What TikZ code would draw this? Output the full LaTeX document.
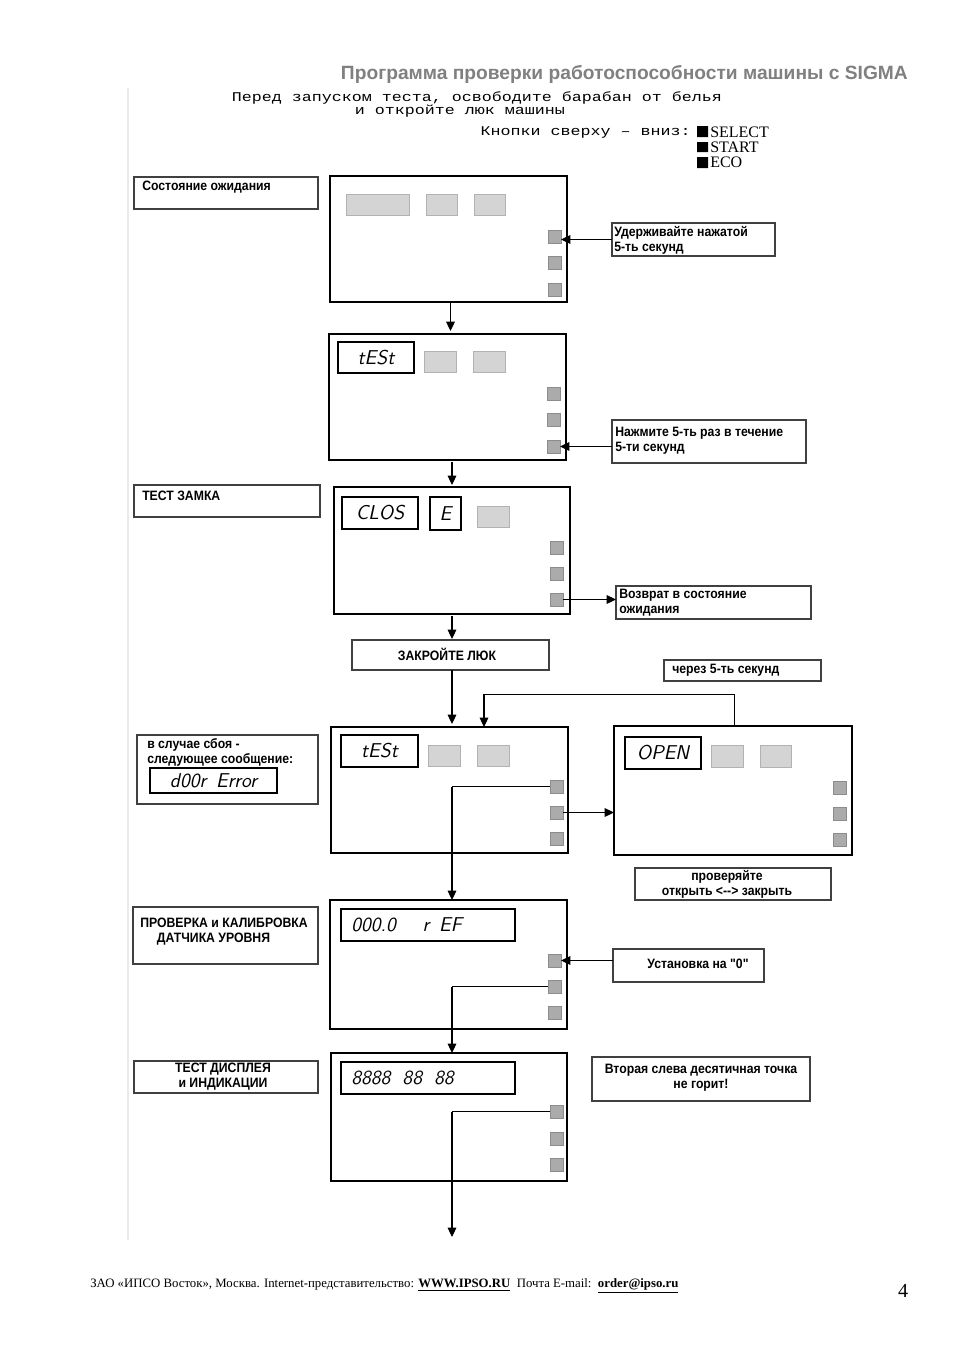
\documentclass[tikz,border=0pt]{standalone}
\usepackage{fontspec}
\setmainfont{Liberation Sans}
\newfontfamily\monof[FakeStretch=1.25]{Liberation Mono}
\newfontfamily\serf{Liberation Serif}
\newfontfamily\lblf[FakeStretch=0.9]{Liberation Sans}
\usetikzlibrary{arrows.meta}
\newcommand\bx[6][]{\node[#1, anchor=north west, inner sep=0pt, outer sep=0pt, minimum width={(#4-#2)*0.75pt}, minimum height={(#5-#3)*0.75pt}] (#6) at (#2,#3) {};}
\newcommand\btns[5]{%
  \bx[btn]{#2}{#3}{#2+13}{#3+13}{#1b1}%
  \bx[btn]{#2}{#4}{#2+13}{#4+13}{#1b2}%
  \bx[btn]{#2}{#5}{#2+13}{#5+13}{#1b3}}
\begin{document}
\begin{tikzpicture}[x=0.75pt,y=-0.75pt,
  panel/.style={draw, line width=2.2pt},
  lbl/.style={draw=black!75, line width=1pt},
  disp/.style={draw, line width=0.8pt},
  blk/.style={draw=black!30, fill=black!17, line width=0.6pt},
  btn/.style={draw=black!45, fill=black!33, line width=0.5pt},
  arr/.style={-{Triangle[length=7pt,width=6.5pt]}, line width=0.8pt},
  ln/.style={line width=0.6pt},
  txt/.style={font=\fontsize{10.2}{11.25}\lblf\bfseries, inner sep=0pt, align=left, anchor=west},
  ctxt/.style={font=\fontsize{10.2}{11.25}\lblf\bfseries, inner sep=0pt, align=center},
  seg/.style={font=\fontsize{15}{15}\sffamily\slshape, inner sep=0pt},
  mono/.style={font=\fontsize{10}{10}\monof, inner sep=0pt},
  ser/.style={font=\fontsize{12}{12}\serf, inner sep=0pt, anchor=west}]
\useasboundingbox (0,0) rectangle (954,1350);
\fill[white] (0,0) rectangle (954,1350);
% faint scan edge
\draw[black!8, line width=1pt] (128,88) -- (128,1240);
% header
\node[font=\fontsize{14.4}{14.4}\bfseries, text=black!50, anchor=east, inner sep=0pt] (title) at (908,74) {Программа проверки работоспособности машины с SIGMA};
\node[mono] (intro1) at (477,98) {Перед запуском теста, освободите барабан от белья};
\node[mono] (intro2) at (460,111) {и откройте люк машины};
\node[mono, anchor=east] (keys) at (691,132) {Кнопки сверху – вниз:};
\fill (697,126) rectangle (708,137) (697,142) rectangle (708,152) (697,157) rectangle (708,168);
\node[ser] (kS) at (710,132) {SELECT};
\node[ser] (kT) at (710,147) {START};
\node[ser] (kE) at (710,162) {ECO};
% ---------- panel 1
\bx[panel]{330}{176}{567}{302}{p1}
\bx[blk]{346}{194}{409}{215}{p1g1}
\bx[blk]{426}{194}{457}{215}{p1g2}
\bx[blk]{474}{194}{505}{215}{p1g3}
\btns{p1}{548}{230}{256}{283}
\bx[lbl]{134}{177}{318}{209}{l1}
\node[txt] (l1t) at (142,187) {Состояние ожидания};
\bx[lbl]{612}{223}{775}{256}{r1}
\node[txt] (r1t) at (614,240) {Удерживайте нажатой\\5-ть секунд};
\draw[arr] (r1.west) -- (r1.west -| p1b1.east);
\draw[arr] (p1.south) ++(2,0) coordinate (a1) -- (a1 |- 0,331);
% ---------- panel 2
\bx[panel]{329}{334}{566}{460}{p2}
\bx[disp]{338}{342}{414}{373}{p2d}
\node[seg] at (p2d) {tESt};
\bx[blk]{424}{351}{456}{372}{p2g1}
\bx[blk]{473}{351}{505}{372}{p2g2}
\btns{p2}{547}{387}{413}{440}
\bx[lbl]{612}{420}{806}{463}{r2}
\node[txt] (r2t) at (615,441) {Нажмите 5-ть раз в течение\\5-ти секунд};
\draw[arr] (r2.west |- p2b3.east) -- (p2b3.east);
\coordinate (a2) at (452,462);
\draw[arr] (a2) -- (a2 |- 0,485);
% ---------- panel 3
\bx[panel]{334}{487}{570}{614}{p3}
\bx[disp]{342}{497}{418}{529}{p3d1}
\node[seg] at (p3d1) {CLOS};
\bx[disp]{430}{497}{461}{530}{p3d2}
\node[seg] at (p3d2) {E};
\bx[blk]{477}{506}{509}{527}{p3g1}
\btns{p3}{550}{541}{567}{593}
\bx[lbl]{134}{485}{320}{517}{l3}
\node[txt] (l3t) at (142,496) {ТЕСТ ЗАМКА};
\bx[lbl]{616}{586}{811}{619}{r3}
\node[txt] (r3t) at (619,603) {Возврат в состояние\\ожидания};
\draw[arr] (p3b3.east) -- (p3b3.east -| r3.west);
% ---------- close door
\bx[lbl]{352}{640}{549}{670}{zl}
\node[ctxt] (zlt) at (447,654) {ЗАКРОЙТЕ ЛЮК};
\draw[arr] (452,616) -- (452,639);
\draw[arr] (zl.south -| 452,0) -- (452,724);
\bx[lbl]{664}{660}{821}{681}{r5s}
\node[txt] (r5t) at (672,670) {через 5-ть секунд};
% ---------- panel 4
\bx[panel]{331}{727}{568}{853}{p4}
\bx[disp]{341}{735}{418}{767}{p4d}
\node[seg] at (p4d) {tESt};
\bx[blk]{428}{745}{460}{766}{p4g1}
\bx[blk]{477}{745}{509}{766}{p4g2}
\btns{p4}{550}{780}{806}{832}
\bx[lbl]{137}{735}{318}{804}{l4}
\node[txt] (l4t) at (147,752) {в случае сбоя -\\следующее сообщение:};
\bx[disp]{150}{768}{277}{793}{l4d}
\node[seg] at (l4d) {d00r\, Error};
% ---------- OPEN panel
\bx[panel]{614}{726}{852}{855}{pO}
\bx[disp]{625}{737}{701}{769}{pOd}
\node[seg] at (pOd) {OPEN};
\bx[blk]{711}{745}{743}{767}{pOg1}
\bx[blk]{760}{745}{791}{767}{pOg2}
\btns{pO}{833}{781}{807}{833}
\bx[lbl]{635}{868}{831}{900}{rO}
\node[ctxt] (rOt) at (727,884) {проверяйте\\открыть <{}-{}-> закрыть};
\draw[arr] (p4b2.east) -- (p4b2.east -| pO.west);
\coordinate (fb1) at (734,694);
\coordinate (fb2) at (484,694);
\draw[ln] (pO.north -| fb1) -- (fb1) -- (fb2);
\draw[arr] (fb2) -- (fb2 |- p4.north);
% ---------- panel 5
\bx[panel]{330}{900}{567}{1029}{p5}
\bx[disp]{341}{909}{515}{941}{p5d}
\node[seg, anchor=west] at (351,925) {000.0\hspace{20pt}r\, EF};
\btns{p5}{548}{954}{980}{1006}
\bx[lbl]{133}{907}{318}{964}{l5}
\node[txt] (l5t) at (140,932) {ПРОВЕРКА и КАЛИБРОВКА\\\hspace{12.5pt}ДАТЧИКА УРОВНЯ};
\bx[lbl]{613}{949}{764}{982}{r6}
\node[ctxt] (r6t) at (698,964) {Установка на "0"};
\draw[arr] (r6.west |- p5b1.east) -- (p5b1.east);
\coordinate (c4) at (452,786);
\draw[ln] (p4b1.west) -- (p4b1.west -| c4);
\draw[arr] (p4b1.west -| c4) -- (c4 |- p5.north);
% ---------- panel 6
\bx[panel]{331}{1053}{567}{1181}{p6}
\bx[disp]{341}{1062}{515}{1094}{p6d}
\node[seg, anchor=west] at (351,1078) {8888\hspace{9pt}88\hspace{9pt}88};
\btns{p6}{550}{1105}{1132}{1158}
\bx[lbl]{134}{1061}{318}{1093}{l6}
\node[ctxt] (l6t) at (223,1077) {ТЕСТ ДИСПЛЕЯ\\и ИНДИКАЦИИ};
\bx[lbl]{592}{1057}{810}{1101}{r7}
\node[ctxt] (r7t) at (701,1078) {Вторая слева десятичная точка\\не горит!};
\coordinate (c5) at (452,986);
\draw[ln] (p5b2.west) -- (p5b2.west -| c5);
\draw[arr] (p5b2.west -| c5) -- (c5 |- p6.north);
\coordinate (c6) at (452,1112);
\coordinate (end) at (452,1237);
\draw[ln] (p6b1.west) -- (p6b1.west -| c6);
\draw[arr] (p6b1.west -| c6) -- (end);
% ---------- footer
\node[font=\fontsize{9.6}{9.6}\serf, anchor=west, inner sep=0pt] (foot) at (90,1286) {ЗАО «ИПСО Восток», Москва. Internet-представительство: \textbf{\underline{WWW.IPSO.RU}}\ \ Почта E-mail:\ \ \textbf{\underline{order@ipso.ru}}};
\node[font=\fontsize{15}{15}\serf, inner sep=0pt] (pg) at (903,1291) {4};
\end{tikzpicture}
\end{document}
